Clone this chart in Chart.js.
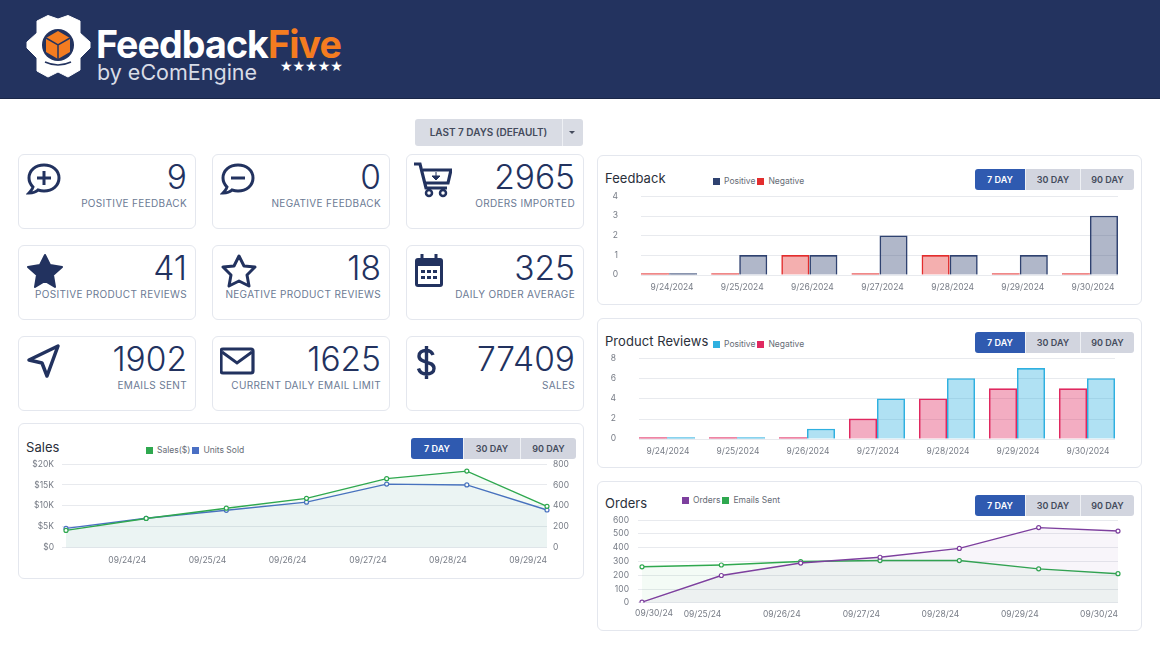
<!DOCTYPE html>
<html>
<head>
<meta charset="utf-8">
<script src="https://cdn.jsdelivr.net/npm/chart.js@4/dist/chart.umd.min.js"></script>
<style>
  * { box-sizing: border-box; }
  html, body { margin: 0; width: 1160px; height: 651px; overflow: hidden; background: #fff; font-family: Inter, sans-serif; color: #22325f; }
  .header { position: absolute; left: 0; top: 0; width: 1160px; height: 99px; background: #23335f; border-bottom: 1px solid #1a2748; }
  .brand { position: absolute; left: 96px; top: 23px; font-size: 37.6px; font-weight: 700; color: #fff; letter-spacing: -0.9px; line-height: 44px; white-space: nowrap; }
  .brand b { color: #f47c20; font-weight: 700; }
  .byline { position: absolute; left: 97px; top: 59px; font-size: 21.5px; font-weight: 400; color: #d8dce6; line-height: 26px; white-space: nowrap; }
  .stars { position: absolute; left: 280px; top: 58px; font-size: 14px; letter-spacing: 0; color: #fff; line-height: 16px; font-family: "DejaVu Sans"; }
  .range { position: absolute; left: 415px; top: 119px; width: 168px; height: 27px; background: #d9dce4; border-radius: 3px; display: flex; font-size: 10px; font-weight: 600; color: #444b5c; align-items: center; }
  .range .txt { width: 148px; text-align: center; border-right: 1px solid #eef0f4; line-height: 27px; }
  .range .caret { width: 0; height: 0; margin-left: 6px; border-left: 3px solid transparent; border-right: 3px solid transparent; border-top: 3px solid #444b5c; }
  .tile { position: absolute; width: 178px; height: 75px; border: 1px solid #e4e7ee; border-radius: 6px; background: #fff; }
  .tile .num { position: absolute; right: 8px; top: 1px; font-size: 33.500px; font-weight: 300; line-height: 42px; color: #22325f; }
  .tile .cap { position: absolute; right: 8px; top: 42px; font-size: 10px; line-height: 13px; color: #6b7a94; white-space: nowrap; letter-spacing: 0.33px; }
  .tile svg { position: absolute; left: 7px; top: 6px; }
  .card { position: absolute; border: 1px solid #e4e7ee; border-radius: 6px; background: #fff; }
  .card h3 { position: absolute; margin: 0; font-size: 13px; font-weight: 400; color: #2a2f3a; line-height: 18px; letter-spacing: 0.05px; }
  .card canvas { position: absolute; left: 0; top: 0; }
  .legend { position: absolute; font-size: 8.500px; color: #666c76; line-height: 12px; display: flex; align-items: center; white-space: nowrap; }
  .legend i { display: inline-block; width: 7px; height: 7px; margin-right: 4px; }
  .legend span { margin-right: 2px; }
  .btns { position: absolute; display: flex; height: 21px; font-size: 9px; font-weight: 600; color: #444b5c; }
  .btns span { background: #d2d5df; text-align: center; line-height: 21px; border-left: 1px solid #eef0f4; }
  .btns span:first-child { background: #2f5ab0; color: #fff; border-left: 0; border-radius: 3px 0 0 3px; }
  .btns span:last-child { border-radius: 0 3px 3px 0; }
</style>
</head>
<body>
<div class="header">
  <svg style="position:absolute;left:0;top:0" width="100" height="90" viewBox="0 0 100 90">
    <polygon fill="#fff" stroke="#fff" stroke-width="1" stroke-linejoin="round" points="37,21 48,15.500 58,19 68,15.500 80,21 80,33 90,42 90,48 80,58 80,70 68,77 58,72 48,77 37,71 37,58 27,48 27,42 37,33"/>
    <circle cx="58" cy="45" r="16" fill="#23335f"/>
    <polygon fill="#f47c20" points="58,31 70,38 70,52 58,59 46,52 46,38"/>
    <path d="M46 38 L58 45 L70 38 M58 45 V59" stroke="#23335f" stroke-width="1.500" fill="none"/>
    <path d="M45 62 Q58 68 71 62" stroke="#23335f" stroke-width="1.500" fill="none"/>
  </svg>
  <div class="brand">Feedback<b>Five</b></div>
  <div class="byline">by eComEngine</div>
  <div class="stars">★★★★★</div>
</div>
<div class="range"><span class="txt">LAST 7 DAYS (DEFAULT)</span><span class="caret"></span></div>
<div id="tiles"></div>

<div class="card" style="left:18px;top:423px;width:566px;height:156px">
  <h3 style="left:7px;top:14px">Sales</h3>
  <div class="legend" id="legendSales" style="left:127px;top:20px"></div>
  <div class="btns" style="left:392px;top:14px"><span style="width:52px">7 DAY</span><span style="width:57px">30 DAY</span><span style="width:56px">90 DAY</span></div>
  <canvas id="salesChart"></canvas>
</div>
<div class="card" style="left:597px;top:155px;width:545px;height:150px">
  <h3 style="left:7px;top:13px">Feedback</h3>
  <div class="legend" id="legendFeedback" style="left:115px;top:19px"></div>
  <div class="btns" style="left:377px;top:13px"><span style="width:50px">7 DAY</span><span style="width:55px">30 DAY</span><span style="width:54px">90 DAY</span></div>
  <canvas id="feedbackChart"></canvas>
</div>
<div class="card" style="left:597px;top:318px;width:545px;height:150px">
  <h3 style="left:7px;top:13px">Product Reviews</h3>
  <div class="legend" id="legendReviews" style="left:115px;top:19px"></div>
  <div class="btns" style="left:377px;top:13px"><span style="width:50px">7 DAY</span><span style="width:55px">30 DAY</span><span style="width:54px">90 DAY</span></div>
  <canvas id="reviewsChart"></canvas>
</div>
<div class="card" style="left:597px;top:481px;width:545px;height:150px">
  <h3 style="left:7px;top:12px">Orders</h3>
  <div class="legend" id="legendOrders" style="left:84px;top:12px"></div>
  <div class="btns" style="left:377px;top:13px"><span style="width:50px">7 DAY</span><span style="width:55px">30 DAY</span><span style="width:54px">90 DAY</span></div>
  <canvas id="ordersChart"></canvas>
</div>

<script>
// tiles
const tileNumbers = ['9', '0', '2965', '41', '18', '325', '1902', '1625', '77409'];
const tileCaptions = ['POSITIVE FEEDBACK', 'NEGATIVE FEEDBACK', 'ORDERS IMPORTED', 'POSITIVE PRODUCT REVIEWS', 'NEGATIVE PRODUCT REVIEWS', 'DAILY ORDER AVERAGE', 'EMAILS SENT', 'CURRENT DAILY EMAIL LIMIT', 'SALES'];

// sales chart
const salesLabels = ['', '09/24/24', '09/25/24', '09/26/24', '09/27/24', '09/28/24', '09/29/24'];
const salesValues = [4150, 7000, 9450, 11800, 16500, 18300, 9900];
const unitsSold = [185, 282, 358, 436, 608, 600, 361];

// feedback chart
const feedbackLabels = ['9/24/2024', '9/25/2024', '9/26/2024', '9/27/2024', '9/28/2024', '9/29/2024', '9/30/2024'];
const feedbackNegative = [0, 0, 1, 0, 1, 0, 0];
const feedbackPositive = [0, 1, 1, 2, 1, 1, 3];

// product reviews chart
const reviewsLabels = ['9/24/2024', '9/25/2024', '9/26/2024', '9/27/2024', '9/28/2024', '9/29/2024', '9/30/2024'];
const reviewsNegative = [0, 0, 0, 2, 4, 5, 5];
const reviewsPositive = [0, 0, 1, 4, 6, 7, 6];

// orders chart
const ordersLabels = ['09/30/24', '09/25/24', '09/26/24', '09/27/24', '09/28/24', '09/29/24', '09/30/24'];
const ordersValues = [5, 198, 288, 330, 394, 545, 520];
const emailsSent = [261, 274, 299, 306, 306, 246, 211];

const GREEN = '#2fa84f', BLUE = '#4a6fc4', NAVY = '#2f4270', RED = '#e32d2d', CYAN = '#2fb0e0', CRIMSON = '#e0285f', PURPLE = '#7d3f9e';
const tickColor = '#777c86';
const gridColor = '#e8eaee';

Chart.defaults.font.family = 'Inter, sans-serif';
Chart.defaults.font.size = 8.5;
Chart.defaults.color = tickColor;
Chart.defaults.animation = false;

const icons = [
  '<path d="M18 4c-8.500 0-15 5.500-15 13 0 3.500 1.500 6.500 4 9-.5 2.500-2 4-4 6 4 0 7-1 9-3 2 .6 4 1 6 1 8.500 0 15-5.500 15-13S26.500 4 18 4z" fill="none" stroke="#22325f" stroke-width="3"/><path d="M11 17h14M18 10v14" stroke="#22325f" stroke-width="3"/>',
  '<path d="M18 4c-8.500 0-15 5.500-15 13 0 3.500 1.500 6.500 4 9-.5 2.500-2 4-4 6 4 0 7-1 9-3 2 .6 4 1 6 1 8.500 0 15-5.500 15-13S26.500 4 18 4z" fill="none" stroke="#22325f" stroke-width="3"/><path d="M11 17h14" stroke="#22325f" stroke-width="3"/>',
  '<path d="M0 3h6l6 24h21M9 9h28l-3 13H12" fill="none" stroke="#22325f" stroke-width="3.200"/><circle cx="15" cy="32" r="3" fill="none" stroke="#22325f" stroke-width="2.500"/><circle cx="29" cy="32" r="3" fill="none" stroke="#22325f" stroke-width="2.500"/><path d="M22 11v5M18 15h8l-4 4z" fill="#22325f" stroke="#22325f"/>',
  '<polygon points="19,3 24,13 36,15 27,23 29,35 19,29 9,35 11,23 2,15 14,13" fill="#22325f" stroke="#22325f" stroke-linejoin="round" stroke-width="2"/>',
  '<polygon points="19,4 24,14 35,15 27,23 29,34 19,29 9,34 11,23 3,15 14,14" fill="none" stroke="#22325f" stroke-linejoin="round" stroke-width="3"/>',
  '<rect x="1" y="6" width="28" height="29" rx="3" fill="#22325f"/><rect x="4" y="14" width="22" height="18" fill="#fff"/><path d="M8 2v6M22 2v6" stroke="#22325f" stroke-width="3"/><path d="M7 18h4v3H7zM13 18h4v3h-4zM19 18h4v3h-4zM7 24h4v3H7zM13 24h4v3h-4zM19 24h4v3h-4z" fill="#22325f"/>',
  '<path d="M3 17 L32 3 L21 33 L16 20 z" fill="none" stroke="#22325f" stroke-width="3.500" stroke-linejoin="round"/>',
  '<rect x="1" y="6" width="32" height="24" rx="2" fill="none" stroke="#22325f" stroke-width="3.200"/><path d="M2 9l15 11 15-11" fill="none" stroke="#22325f" stroke-width="3"/>',
  '<path d="M19 12c-1-3-3.500-4.500-7-4.500-4 0-7 2-7 5.500 0 8 15 4 15 12.500 0 3.500-3 5.500-7.500 5.500-4 0-7-2-8-5.500M12.500 3v33" fill="none" stroke="#22325f" stroke-width="3.400"/>'
];
const tileLeft = [18, 212, 406];
const tileTop = [154, 245, 336];
let tileHtml = '';
tileNumbers.forEach((n, i) => {
  const col = i % 3, row = Math.floor(i / 3);
  tileHtml += '<div class="tile" style="left:' + tileLeft[col] + 'px;top:' + tileTop[row] + 'px">'
    + '<svg width="38" height="38" viewBox="0 0 38 38">' + icons[i] + '</svg>'
    + '<div class="num">' + n + '</div><div class="cap">' + tileCaptions[i] + '</div></div>';
});
document.getElementById('tiles').innerHTML = tileHtml;

function fillLegend(id, entries) {
  document.getElementById(id).innerHTML = entries.map(e => '<i style="background:' + e[1] + '"></i><span>' + e[0] + '</span>').join('');
}
fillLegend('legendSales', [['Sales($)', GREEN], ['Units Sold', BLUE]]);
fillLegend('legendFeedback', [['Positive', NAVY], ['Negative', RED]]);
fillLegend('legendReviews', [['Positive', CYAN], ['Negative', CRIMSON]]);
fillLegend('legendOrders', [['Orders', PURPLE], ['Emails Sent', GREEN]]);

function alpha(hex, a) {
  const n = parseInt(hex.slice(1), 16);
  return 'rgba(' + (n >> 16) + ',' + ((n >> 8) & 255) + ',' + (n & 255) + ',' + a + ')';
}

function lineSet(label, data, color, yAxisID) {
  return {
    label, data, yAxisID,
    borderColor: color, backgroundColor: alpha(color, 0.05), fill: 'origin',
    borderWidth: 1.4, tension: 0, pointRadius: 2, pointBorderWidth: 1.2,
    pointBackgroundColor: '#fff', pointBorderColor: color
  };
}
function barSet(label, data, color) {
  return {
    label, data,
    borderColor: color, borderWidth: 1.6,
    // zero days still show as a thin solid line on the axis
    backgroundColor: ctx => (ctx.raw === 0 ? color : alpha(color, 0.38)),
    borderSkipped: 'bottom', minBarLength: 1.5,
    barPercentage: 1, categoryPercentage: 0.8
  };
}

// grid lines stop short of the bar scale's edges, so they are drawn from the y scale here
const insetGrid = {
  id: 'insetGrid',
  beforeDatasetsDraw(chart, args, opts) {
    const y = chart.scales.y, ctx = chart.ctx;
    ctx.save();
    ctx.strokeStyle = gridColor;
    ctx.lineWidth = 1;
    y.ticks.forEach(t => {
      const py = Math.round(y.getPixelForValue(t.value)) + 0.5;
      ctx.beginPath();
      ctx.moveTo(chart.chartArea.left + opts.left, py);
      ctx.lineTo(chart.chartArea.right - opts.right, py);
      ctx.stroke();
    });
    ctx.restore();
  }
};

// the first date in the orders chart sits right of its point, unlike the others
const firstLabel = {
  id: 'firstLabel',
  afterDraw(chart, args, opts) {
    if (!opts.text) return;
    const x = chart.scales.x, ctx = chart.ctx;
    ctx.save();
    ctx.font = '8.5px Inter, sans-serif';
    ctx.fillStyle = tickColor;
    ctx.textAlign = 'center';
    ctx.textBaseline = 'middle';
    ctx.fillText(opts.text, x.getPixelForValue(0) + 12, chart.chartArea.bottom + opts.dy);
    ctx.restore();
  }
};

function makeChart(id, w, h, config, layoutPad) {
  const canvas = document.getElementById(id);
  canvas.style.width = w + 'px';
  canvas.style.height = h + 'px';
  canvas.width = w;
  canvas.height = h;
  config.options.responsive = false;
  config.options.animation = false;
  config.options.layout = { padding: layoutPad };
  config.options.plugins = Object.assign({ legend: { display: false }, tooltip: { enabled: false } }, config.options.plugins);
  return new Chart(canvas.getContext('2d'), config);
}

function fixedWidth(px) {
  return scale => { scale.width = px; };
}

const salesChart = makeChart('salesChart', 564, 154, {
  type: 'line',
  data: {
    labels: salesLabels,
    datasets: [lineSet('Sales($)', salesValues, GREEN, 'y'), lineSet('Units Sold', unitsSold, BLUE, 'y1')]
  },
  options: {
    scales: {
      x: { grid: { display: false }, border: { display: false }, ticks: { align: 'end', maxRotation: 0, autoSkip: false, padding: 0 } },
      y: {
        min: 0, max: 20000, afterFit: fixedWidth(47),
        ticks: { stepSize: 5000, padding: 8, autoSkip: false, callback: v => '$' + v / 1000 + (v ? 'K' : '') },
        grid: { color: gridColor, tickLength: 4 }, border: { display: false }
      },
      y1: {
        position: 'right', min: 0, max: 800, afterFit: fixedWidth(36),
        ticks: { stepSize: 200, padding: 6, autoSkip: false }, grid: { display: false, drawTicks: false, tickLength: 0 }, border: { display: false }
      }
    }
  }
}, { left: 0, right: 0, top: 40, bottom: 12 });

function barOptions(yMax, step, yWidth, labelShift) {
  return {
    plugins: { insetGrid: { left: 7, right: 7 } },
    scales: {
      x: { grid: { display: false }, border: { display: false }, ticks: { maxRotation: 0, autoSkip: false, padding: 0, labelOffset: labelShift } },
      y: { min: 0, max: yMax, afterFit: fixedWidth(yWidth), ticks: { stepSize: step, padding: 8, autoSkip: false }, grid: { display: false }, border: { display: false } }
    }
  };
}

const feedbackChart = makeChart('feedbackChart', 543, 148, {
  type: 'bar',
  plugins: [insetGrid],
  data: { labels: feedbackLabels, datasets: [barSet('Negative', feedbackNegative, RED), barSet('Positive', feedbackPositive, NAVY)] },
  options: barOptions(4, 1, 36, 3)
}, { left: 0, right: 16, top: 40, bottom: 11 });

const reviewsChart = makeChart('reviewsChart', 543, 148, {
  type: 'bar',
  plugins: [insetGrid],
  data: { labels: reviewsLabels, datasets: [barSet('Negative', reviewsNegative, CRIMSON), barSet('Positive', reviewsPositive, CYAN)] },
  options: barOptions(8, 2, 34, 1)
}, { left: 0, right: 19, top: 39, bottom: 10 });

const ordersChart = makeChart('ordersChart', 543, 148, {
  type: 'line',
  plugins: [firstLabel],
  data: {
    labels: ['', ...ordersLabels.slice(1)],
    datasets: [lineSet('Orders', ordersValues, PURPLE, 'y'), lineSet('Emails Sent', emailsSent, GREEN, 'y')]
  },
  options: {
    plugins: { firstLabel: { text: ordersLabels[0], dy: 11 } },
    scales: {
      x: { grid: { display: false }, border: { display: false }, ticks: { align: 'end', maxRotation: 0, autoSkip: false, padding: -1 } },
      y: {
        min: 0, max: 600, afterFit: fixedWidth(44),
        ticks: { stepSize: 100, padding: 9, autoSkip: false }, grid: { color: gridColor, tickLength: 4 }, border: { display: false }
      }
    }
  }
}, { left: 0, right: 23, top: 38, bottom: 11 });
</script>
</body>
</html>
